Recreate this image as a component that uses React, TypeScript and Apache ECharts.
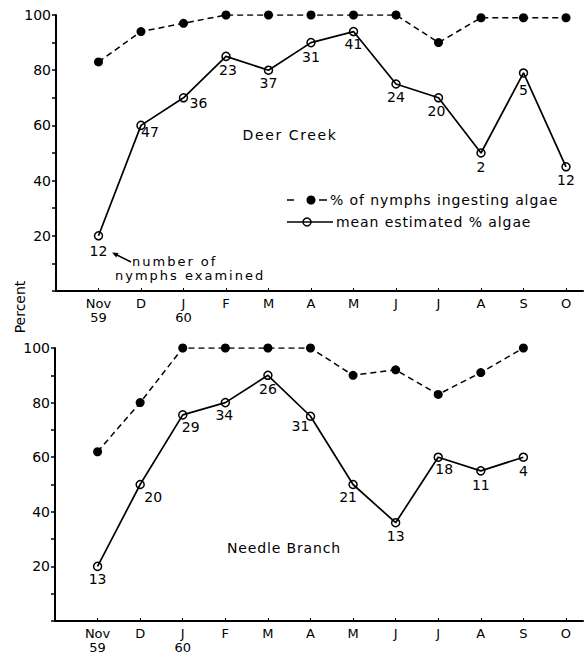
import React, { useEffect, useRef } from 'react';
import * as echarts from 'echarts';

// ---- data ----
const months = ['Nov', 'D', 'J', 'F', 'M', 'A', 'M', 'J', 'J', 'A', 'S', 'O'];
const years = ['59', '', '60', '', '', '', '', '', '', '', '', ''];
const yTickLabels = [20, 40, 60, 80, 100];

const deerIngesting = [83, 94, 97, 100, 100, 100, 100, 100, 90, 99, 99, 99];
const deerMean = [20, 60, 70, 85, 80, 90, 94, 75, 70, 50, 79, 45];
const deerN = [12, 47, 36, 23, 37, 31, 41, 24, 20, 2, 5, 12];

const needleIngesting = [62, 80, 100, 100, 100, 100, 90, 92, 83, 91, 100, null];
const needleMean = [20, 50, 75.5, 80, 90, 75, 50, 36, 60, 55, 60, null];
const needleN = [13, 20, 29, 34, 26, 31, 21, 13, 18, 11, 4, null];

// ---- label placement (style) ----
const deerLabelOffset = [
  [0, 15], [9, 7], [15, 5], [2, 14], [0, 13], [0, 14],
  [0, 12], [0, 13], [-2, 13], [0, 14], [0, 17], [0, 13],
];
const needleLabelOffset = [
  [0, 13], [13, 12], [8, 12], [-1, 12], [0, 14], [-10, 10],
  [-5, 12], [0, 13], [6, 12], [0, 14], [0, 14], [0, 0],
];

const FONT = 'DejaVu Sans';
const BLACK = '#000';

// letter spacing for the wide lettering of the original (matched by unique font size)
const CSS = `
text[style*="14.01px"] { letter-spacing: 1.6px; }
text[style*="14.02px"] { letter-spacing: 0.85px; }
text[style*="14.03px"] { letter-spacing: 0.9px; }
text[style*="13.01px"] { letter-spacing: 2px; }
`;

function pairs(vals: (number | null)[]) {
  const out: [number, number][] = [];
  vals.forEach((v, i) => {
    if (v !== null && v !== undefined) out.push([i, v]);
  });
  return out;
}

function labelled(vals: (number | null)[], ns: (number | null)[], offs: number[][]) {
  const out: any[] = [];
  vals.forEach((v, i) => {
    if (v === null || v === undefined) return;
    out.push({
      value: [i, v],
      label: { offset: offs[i], formatter: String(ns[i]) },
    });
  });
  return out;
}

function xAxis(gridIndex: number) {
  return {
    type: 'value',
    gridIndex,
    min: -1,
    max: 11.4,
    interval: 1,
    axisLine: { show: true, onZero: false, lineStyle: { color: BLACK, width: 2 } },
    axisTick: { show: true, inside: true, length: 3, lineStyle: { color: BLACK, width: 1 } },
    splitLine: { show: false },
    axisLabel: {
      color: BLACK,
      fontFamily: FONT,
      fontSize: 13,
      lineHeight: 14,
      margin: 5,
      showMaxLabel: false,
      formatter: (v: number) => {
        const i = Math.round(v);
        if (Math.abs(v - i) > 1e-6 || i < 0 || i >= months.length) return '';
        return years[i] ? months[i] + '\n' + years[i] : months[i];
      },
    },
  };
}

function yAxis(gridIndex: number) {
  return {
    type: 'value',
    gridIndex,
    min: 0,
    max: 100,
    interval: 10,
    axisLine: { show: true, onZero: false, lineStyle: { color: BLACK, width: 2 } },
    axisTick: { show: true, length: 4, lineStyle: { color: BLACK, width: 1.5 } },
    splitLine: { show: false },
    axisLabel: {
      color: BLACK,
      fontFamily: FONT,
      fontSize: 14,
      margin: 5,
      formatter: (v: number) => (yTickLabels.indexOf(v) >= 0 ? String(v) : ''),
    },
  };
}

function dashedSeries(idx: number, vals: (number | null)[]) {
  return {
    type: 'line',
    xAxisIndex: idx,
    yAxisIndex: idx,
    data: pairs(vals),
    symbol: 'circle',
    symbolSize: 9,
    itemStyle: { color: BLACK },
    lineStyle: { color: BLACK, width: 1.5, type: [6, 4] },
    silent: true,
    emphasis: { disabled: true },
  };
}

function solidSeries(idx: number, vals: (number | null)[], ns: (number | null)[], offs: number[][]) {
  return {
    type: 'line',
    xAxisIndex: idx,
    yAxisIndex: idx,
    data: labelled(vals, ns, offs),
    symbol: 'circle',
    symbolSize: 8,
    itemStyle: { color: 'rgba(255,255,255,0)', borderColor: BLACK, borderWidth: 1.5 },
    lineStyle: { color: BLACK, width: 1.7 },
    label: {
      show: true,
      position: 'inside',
      color: BLACK,
      fontFamily: FONT,
      fontSize: 14,
    },
    silent: true,
    emphasis: { disabled: true },
  };
}

function textEl(text: string, x: number, y: number, size = '14px', extra: any = {}) {
  return {
    type: 'text',
    x,
    y,
    silent: true,
    style: {
      text,
      fill: BLACK,
      font: `${size} "${FONT}"`,
      align: 'left',
      verticalAlign: 'middle',
      ...extra,
    },
  };
}

export default function App() {
  const ref = useRef<HTMLDivElement>(null);

  useEffect(() => {
    if (!ref.current) return;
    const chart = echarts.init(ref.current, undefined, { renderer: 'svg' });

    const graphic: any[] = [
      textEl('Deer Creek', 290, 135, '14.01px', { align: 'center' }),
      textEl('Needle Branch', 284, 548, '14.02px', { align: 'center' }),
      { ...textEl('Percent', 20, 307, '14px', { align: 'center' }), rotation: Math.PI / 2 },
      // legend row 1
      { type: 'line', silent: true, shape: { x1: 287, y1: 200, x2: 294, y2: 200 }, style: { stroke: BLACK, lineWidth: 1.5 } },
      { type: 'circle', silent: true, shape: { cx: 311, cy: 200, r: 4.5 }, style: { fill: BLACK } },
      { type: 'line', silent: true, shape: { x1: 319, y1: 200, x2: 327, y2: 200 }, style: { stroke: BLACK, lineWidth: 1.5 } },
      textEl('% of nymphs ingesting algae', 330, 200, '14.03px'),
      // legend row 2
      { type: 'line', silent: true, shape: { x1: 287, y1: 222, x2: 333, y2: 222 }, style: { stroke: BLACK, lineWidth: 1.7 } },
      { type: 'circle', silent: true, shape: { cx: 307, cy: 222, r: 4 }, style: { fill: 'none', stroke: BLACK, lineWidth: 1.5 } },
      textEl('mean estimated % algae', 336, 222, '14.03px'),
      // annotation
      textEl('number of', 132, 261, '13.01px'),
      textEl('nymphs examined', 115, 275.5, '13.01px'),
      { type: 'line', silent: true, shape: { x1: 131, y1: 262, x2: 116, y2: 254.5 }, style: { stroke: BLACK, lineWidth: 1.5 } },
      { type: 'polygon', silent: true, shape: { points: [[112, 252.5], [118.5, 253], [116.3, 257.5]] }, style: { fill: BLACK } },
    ];

    chart.setOption({
      animation: false,
      backgroundColor: '#fff',
      textStyle: { fontFamily: FONT },
      grid: [
        { left: 56, top: 15, width: 527, height: 276, containLabel: false },
        { left: 55, top: 348, width: 528, height: 274, containLabel: false },
      ],
      xAxis: [xAxis(0), xAxis(1)],
      yAxis: [yAxis(0), yAxis(1)],
      series: [
        dashedSeries(0, deerIngesting),
        solidSeries(0, deerMean, deerN, deerLabelOffset),
        dashedSeries(1, needleIngesting),
        solidSeries(1, needleMean, needleN, needleLabelOffset),
      ],
      graphic,
    });

    return () => chart.dispose();
  }, []);

  return (
    <>
      <style>{CSS}</style>
      <div
        ref={ref}
        style={{ position: 'absolute', left: 0, top: 0, width: 586, height: 654, background: '#fff' }}
      />
    </>
  );
}
